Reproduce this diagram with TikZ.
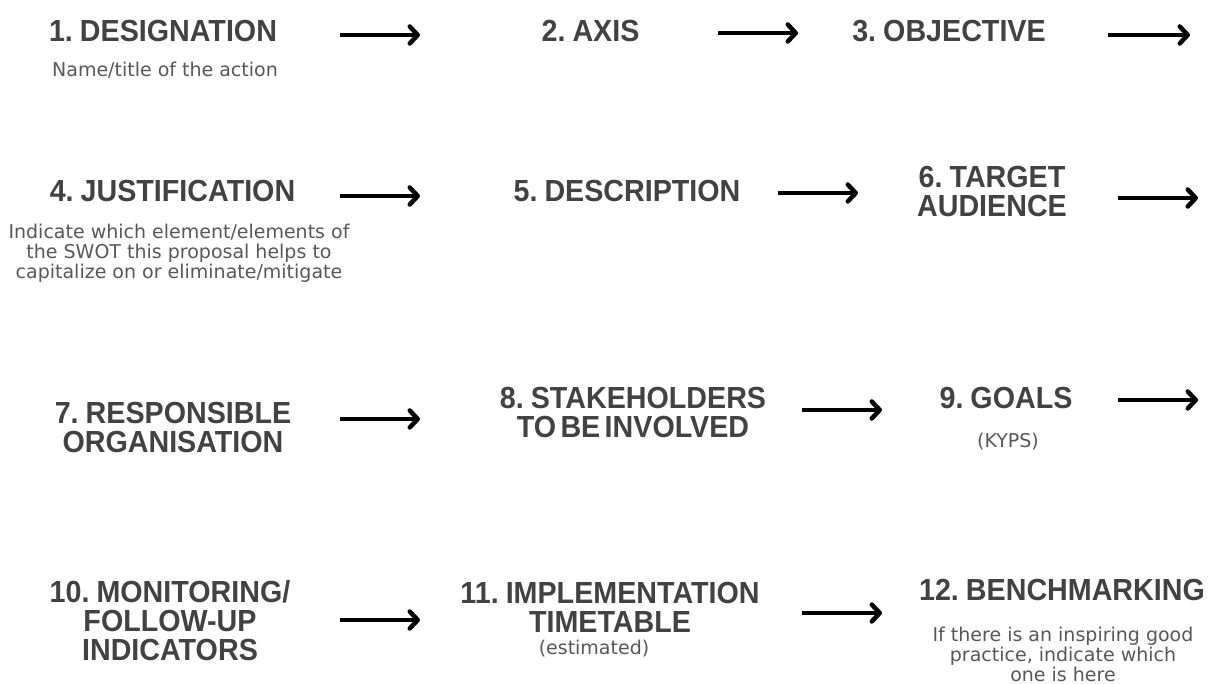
\documentclass[tikz,border=0pt]{standalone}
\usepackage{fontspec}
\usetikzlibrary{arrows.meta}
\newfontfamily\headfont[FakeStretch=0.94,WordSpace=0.55]{Liberation Sans}
\newfontfamily\notefont{DejaVu Sans}
\definecolor{headgray}{HTML}{424242}
\definecolor{notegray}{HTML}{585858}
\tikzset{
  heading/.style={font=\headfont\bfseries\fontsize{30.5}{29}\selectfont,
    text=headgray, align=center, inner sep=0pt, anchor=base},
  note/.style={font=\notefont\fontsize{19}{20}\selectfont,
    text=notegray, align=center, inner sep=0pt, anchor=base},
  flow/.style={line width=4.5pt, black,
    -{Straight Barb[length=8pt,width=17pt,round]}}
}
\begin{document}
\begin{tikzpicture}[x=1pt,y=-1pt]
\fill[white] (0,0) rectangle (1211,684);
\useasboundingbox (0,0) rectangle (1211,684);

% row 1 (node positions give the baseline of the last line)
\node[heading] (h1) at (163,42) {1. DESIGNATION};
\node[note] (s1) at (165,77) {Name/title of the action};
\node[heading] (h2) at (590.5,42) {2. AXIS};
\node[heading] (h3) at (949,42) {3. OBJECTIVE};

% row 2
\node[heading] (h4) at (172.5,202) {4. JUSTIFICATION};
\node[note] (s4) at (179,279) {Indicate which element/elements of\\the SWOT this proposal helps to\\capitalize on or eliminate/mitigate};
\node[heading] (h5) at (627,202) {5. DESCRIPTION};
\node[heading] (h6) at (992,217) {6. TARGET\\AUDIENCE};

% row 3
\node[heading] (h7) at (173,453) {7. RESPONSIBLE\\ORGANISATION};
\node[heading] (h8) at (633,438) {8. STAKEHOLDERS\\TO BE INVOLVED};
\node[heading] (h9) at (1006,409) {9. GOALS};
\node[note] (s9) at (1008,448) {(KYPS)};

% row 4
\node[heading] (h10) at (170,660) {10. MONITORING/\\FOLLOW-UP\\INDICATORS};
\node[heading] (h11) at (610,632) {11. IMPLEMENTATION\\TIMETABLE};
\node[note] (s11) at (594,654) {(estimated)};
\node[heading] (h12) at (1062,600) {12. BENCHMARKING};
\node[note] (s12) at (1063,681) {If there is an inspiring good\\practice, indicate which\\one is here};

% arrow end points
\coordinate (a1s) at (340,35);   \coordinate (a1e) at (420,35);
\coordinate (a2s) at (718,33);   \coordinate (a2e) at (798,33);
\coordinate (a3s) at (1108,35);  \coordinate (a3e) at (1190,35);
\coordinate (a4s) at (340,196);  \coordinate (a4e) at (420,196);
\coordinate (a5s) at (778,193);  \coordinate (a5e) at (858,193);
\coordinate (a6s) at (1118,198); \coordinate (a6e) at (1198,198);
\coordinate (a7s) at (340,419);  \coordinate (a7e) at (420,419);
\coordinate (a8s) at (802,410);  \coordinate (a8e) at (882,410);
\coordinate (a9s) at (1118,400); \coordinate (a9e) at (1198,400);
\coordinate (a10s) at (340,620); \coordinate (a10e) at (420,620);
\coordinate (a11s) at (802,613); \coordinate (a11e) at (882,613);

\foreach \k in {1,...,11}
  \draw[flow] (a\k s) -- (a\k e);
\end{tikzpicture}
\end{document}
